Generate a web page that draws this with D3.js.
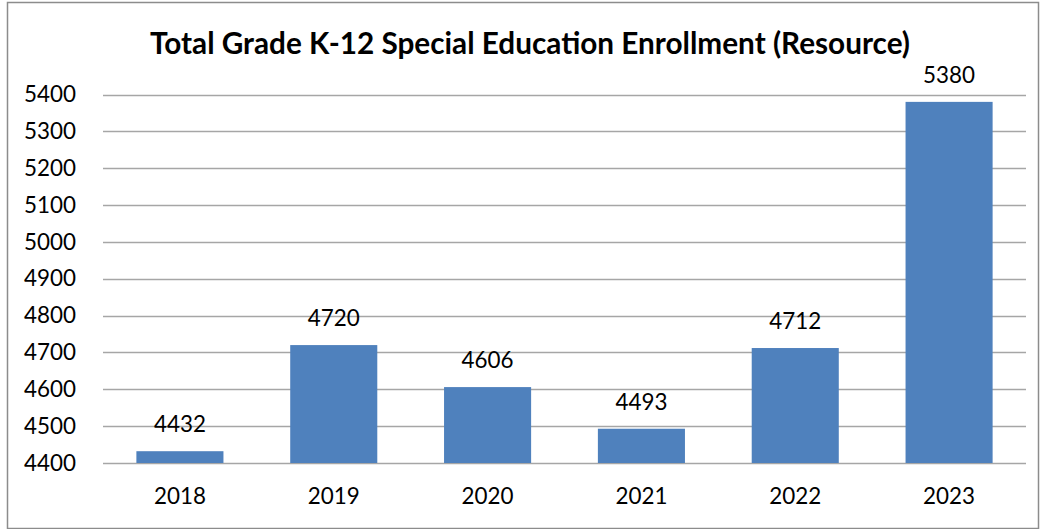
<!DOCTYPE html>
<html>
<head>
<meta charset="utf-8">
<script src="https://cdn.jsdelivr.net/npm/d3@7"></script>
<style>
  body { margin: 0; background: #fff; }
  text { font-family: Lato, "Open Sans", sans-serif; fill: #000; }
</style>
</head>
<body>
<div id="chart"></div>
<script>
// data
const years = ["2018", "2019", "2020", "2021", "2022", "2023"];
const enrollment = [4432, 4720, 4606, 4493, 4712, 5380];
const yTicks = [4400, 4500, 4600, 4700, 4800, 4900, 5000, 5100, 5200, 5300, 5400];
const title = "Total Grade K-12 Special Education Enrollment (Resource)";

const W = 1044, H = 529;
const plot = { left: 103, right: 1026, top: 94.5, bottom: 463 };

const svg = d3.select("#chart").append("svg")
  .attr("width", W)
  .attr("height", H);

// work out a font size so that four digits are ~52px wide, like the reference
const probe = svg.append("text").style("font-size", "20px").text("5400");
const numSize = (20 * 52 / probe.node().getComputedTextLength()).toFixed(2) + "px";
probe.remove();

// outer frame
svg.append("rect")
  .attr("x", 7.5).attr("y", 2.5)
  .attr("width", W - 13).attr("height", H - 3)
  .attr("fill", "#fff")
  .attr("stroke", "#8c8c8c")
  .attr("stroke-width", 1.5);

const x = d3.scaleBand()
  .domain(years)
  .range([plot.left, plot.right])
  .paddingInner(0.434)
  .paddingOuter(0.217);

const y = d3.scaleLinear()
  .domain([4400, 5400])
  .range([plot.bottom, plot.top]);

// gridlines
svg.append("g")
  .selectAll("line")
  .data(yTicks)
  .enter().append("line")
  .attr("x1", plot.left)
  .attr("x2", plot.right)
  .attr("y1", d => Math.round(y(d)) + 0.5)
  .attr("y2", d => Math.round(y(d)) + 0.5)
  .attr("stroke", "#a6a6a6")
  .attr("stroke-width", 1.5);

// y axis labels
const yAxis = d3.axisLeft(y).tickValues(yTicks).tickFormat(d3.format("d")).tickSize(0).tickPadding(27);
const yg = svg.append("g")
  .attr("transform", "translate(" + plot.left + ",0)")
  .call(yAxis);
yg.select(".domain").remove();
yg.selectAll("text")
  .style("font-size", numSize)
  .attr("fill", "#000");

// bars
svg.append("g")
  .selectAll("rect")
  .data(enrollment)
  .enter().append("rect")
  .attr("x", (d, i) => x(years[i]))
  .attr("width", x.bandwidth())
  .attr("y", d => y(d))
  .attr("height", d => y(4400) - y(d))
  .attr("fill", "#4f81bd");

// value labels
svg.append("g")
  .selectAll("text")
  .data(enrollment)
  .enter().append("text")
  .attr("x", (d, i) => x(years[i]) + x.bandwidth() / 2)
  .attr("y", d => y(d) - 19)
  .attr("text-anchor", "middle")
  .style("font-size", numSize)
  .text(d => d);

// x axis labels
const xAxis = d3.axisBottom(x).tickSize(0).tickPadding(25);
const xg = svg.append("g")
  .attr("transform", "translate(0," + plot.bottom + ")")
  .call(xAxis);
xg.select(".domain").remove();
xg.selectAll("text")
  .style("font-size", numSize)
  .attr("fill", "#000");

// title, sized to the reference width
const t = svg.append("text")
  .attr("x", 530)
  .attr("y", 54)
  .attr("text-anchor", "middle")
  .style("font-size", "24px")
  .style("font-weight", "bold")
  .text(title);
const tw = t.node().getComputedTextLength();
t.style("font-size", (24 * 760 / tw).toFixed(2) + "px");
</script>
</body>
</html>
